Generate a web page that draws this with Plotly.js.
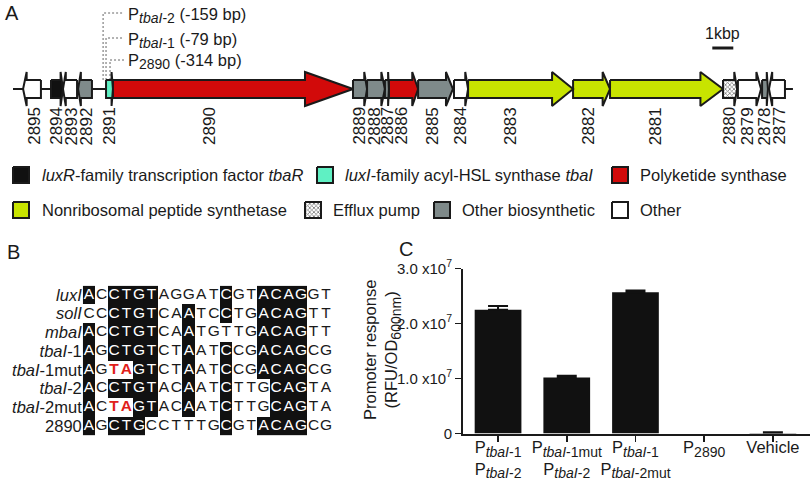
<!DOCTYPE html>
<html>
<head>
<meta charset="utf-8">
<script src="https://cdn.plot.ly/plotly-3.0.1.min.js"></script>
<style>
  html, body { margin: 0; padding: 0; background: #fff; }
  #fig { width: 810px; height: 480px; }
</style>
</head>
<body>
<div id="fig"></div>
<script>
// ---- Panel A: gene cluster, positions in kbp ----
const geneIds = ['2895', '2894', '2893', '2892', '2891', '2890', '2889', '2888', '2887', '2886',
                 '2885', '2884', '2883', '2882', '2881', '2880', '2879', '2878', '2877'];
const geneStart = [0.48, 1.81, 2.38, 3.10, 4.43, 4.76, 16.19, 16.86, 17.71, 17.90,
                   19.29, 21.00, 21.67, 26.67, 28.43, 33.81, 34.52, 35.67, 36.00];
const geneEnd = [1.33, 2.38, 3.05, 3.76, 4.76, 16.19, 16.86, 17.71, 17.90, 19.29,
                 20.95, 21.67, 26.67, 28.43, 33.81, 34.48, 35.62, 35.95, 36.76];
const geneStrand = [-1, 1, -1, -1, 1, 1, 1, 1, 1, 1, 1, 1, 1, 1, 1, 1, 1, 1, -1];
const geneClass = ['other', 'luxR', 'other', 'biosyn', 'luxI', 'pks', 'biosyn', 'biosyn', 'biosyn', 'pks',
                   'biosyn', 'other', 'nrps', 'nrps', 'nrps', 'efflux', 'other', 'biosyn', 'other'];
const clusterSpan = [0, 37.14];

const classKeys = ['luxR', 'luxI', 'pks', 'nrps', 'efflux', 'biosyn', 'other'];
const classNames = ['<i>luxR</i>-family transcription factor <i>tbaR</i>',
                    '<i>luxI</i>-family acyl-HSL synthase <i>tbaI</i>',
                    'Polyketide synthase',
                    'Nonribosomal peptide synthetase',
                    'Efflux pump',
                    'Other biosynthetic',
                    'Other'];

function sub(t) { return '<sub><span style="font-size:14px">' + t + '</span></sub>'; }

const promoterNames = ['P' + sub('<i>tbaI</i>-2') + ' (-159 bp)',
                       'P' + sub('<i>tbaI</i>-1') + ' (-79 bp)',
                       'P' + sub('2890') + ' (-314 bp)'];
const promoterPos = [4.29, 4.43, 4.62];

// ---- Panel B: alignment ----
const seqNames = ['<i>luxI</i>', '<i>solI</i>', '<i>mbaI</i>', '<i>tbaI</i>-1',
                  '<i>tbaI</i>-1mut', '<i>tbaI</i>-2', '<i>tbaI</i>-2mut', '2890'];
const seqs = ['ACCTGTAGGATCGTACAGGT',
              'CCCTGTCAATCCTGACAGTT',
              'ACCTGTCAATGTTGACAGTT',
              'AGCTGTCTAATCCGACAGCG',
              'AGTAGTCTAATCCGACAGCG',
              'ACCTGTACAATCTTGCAGTA',
              'ACTAGTACAATCTTGCAGTA',
              'AGCTGCCTTTGCGTACAGCG'];
// 1 = conserved (black box), m = mutated base, 0 = plain
const seqMask = ['10111100000100111100',
                 '00111100100100111100',
                 '10111100100000111100',
                 '10111100100100111100',
                 '10mm1100100100111100',
                 '10111100100100011100',
                 '10mm1100100100011100',
                 '10111000000100111100'];

// ---- Panel C: promoter response ----
const constructs = ['P' + sub('<i>tbaI</i>-1') + '<br>P' + sub('<i>tbaI</i>-2'),
                    'P' + sub('<i>tbaI</i>-1mut') + '<br>P' + sub('<i>tbaI</i>-2'),
                    'P' + sub('<i>tbaI</i>-1') + '<br>P' + sub('<i>tbaI</i>-2mut'),
                    'P' + sub('2890'),
                    'Vehicle'];
const response = [2.25e7, 1.02e7, 2.57e7, null, 0.01e7];
const responseErr = [0.07e7, 0.03e7, 0.03e7, 0, 0.015e7];
const yTicks = [0, 1e7, 2e7, 3e7];
const yTickText = ['0', '1.0 x10<sup>7</sup>', '2.0 x10<sup>7</sup>', '3.0 x10<sup>7</sup>'];

// ---- styling ----
const FONT = 'Liberation Sans, Arial, sans-serif';
const INK = '#1a1a1a';
const classColor = {
    luxR: '#111111', luxI: '#5ff0c3', pks: '#d20a0a', nrps: '#c8e400',
    efflux: '#ffffff', biosyn: '#7f8a8a', other: '#ffffff'
};
const TRACK_Y = 89;   // panel A y axis is in pixels from the top
const BODY = 9, HEAD = 17;

function pxToKb(px) { return (px - 13) / 21; }

function genePath(s, e, strand, xs, ys) {
    const h = (e - s) * 0.2;
    const y0 = TRACK_Y;
    let px;
    if (strand > 0) {
        px = [s, e - h, e - h, e, e - h, e - h, s, s];
    } else {
        px = [e, s + h, s + h, s, s + h, s + h, e, e];
    }
    const py = [y0 - BODY, y0 - BODY, y0 - HEAD, y0, y0 + HEAD, y0 + BODY, y0 + BODY, y0 - BODY];
    xs.push(...px, null);
    ys.push(...py, null);
}

// legend swatch positions (px) for each class
const swatchX = [13, 317, 612, 13, 305, 434, 612];
const swatchY = [175, 175, 175, 210, 210, 210, 210];

const traces = [];

// backbone
traces.push({
    x: clusterSpan, y: [TRACK_Y, TRACK_Y], xaxis: 'x', yaxis: 'y',
    type: 'scatter', mode: 'lines', line: {color: INK, width: 2},
    hoverinfo: 'skip', showlegend: false
});

// promoter leader lines
const promoterLabelY = [13, 38, 60];
promoterPos.forEach(function(p, i) {
    traces.push({
        x: [p, p, pxToKb(124)], y: [TRACK_Y - BODY, promoterLabelY[i], promoterLabelY[i]],
        xaxis: 'x', yaxis: 'y', type: 'scatter', mode: 'lines',
        line: {color: '#666', width: 1, dash: '2px,2px'},
        hoverinfo: 'skip', showlegend: false
    });
});

// genes + legend swatch, one trace per class
classKeys.forEach(function(key, k) {
    const xs = [], ys = [];
    geneIds.forEach(function(id, i) {
        if (geneClass[i] === key) genePath(geneStart[i], geneEnd[i], geneStrand[i], xs, ys);
    });
    const sx0 = pxToKb(swatchX[k]), sx1 = pxToKb(swatchX[k] + 16);
    const sy = swatchY[k];
    xs.push(sx0, sx1, sx1, sx0, sx0);
    ys.push(sy - 8, sy - 8, sy + 8, sy + 8, sy - 8);
    const t = {
        x: xs, y: ys, xaxis: 'x', yaxis: 'y', type: 'scatter', mode: 'lines',
        fill: 'toself', fillcolor: classColor[key],
        line: {color: INK, width: 2}, hoverinfo: 'skip', showlegend: false
    };
    if (key === 'efflux') {
        t.fillpattern = {shape: 'x', size: 3, solidity: 0.45, fgcolor: '#777', bgcolor: '#fff'};
    }
    traces.push(t);
});

// scale bar (1 kbp)
traces.push({
    x: [33.3, 34.3], y: [48, 48], xaxis: 'x', yaxis: 'y',
    type: 'scatter', mode: 'lines', line: {color: INK, width: 3},
    hoverinfo: 'skip', showlegend: false
});

// ---- panel B traces ----
const z = seqMask.map(function(m) {
    return m.split('').map(function(c) { return c === '1' ? 1 : null; });
});
const cols = seqs[0].split('').map(function(_, j) { return j + 1; });
const rows = seqs.map(function(_, i) { return i + 1; });
traces.push({
    type: 'heatmap', z: z, x: cols, y: rows, xaxis: 'x2', yaxis: 'y2',
    colorscale: [[0, '#111'], [1, '#111']], showscale: false,
    hoverinfo: 'skip'
});

const lx = [], ly = [], lt = [], lc = [];
const mx = [], my = [], mt = [];
seqs.forEach(function(s, i) {
    s.split('').forEach(function(ch, j) {
        const flag = seqMask[i][j];
        if (flag === 'm') {
            mx.push(j + 1); my.push(i + 1); mt.push(ch);
        } else {
            lx.push(j + 1); ly.push(i + 1); lt.push(ch);
            lc.push(flag === '1' ? '#fff' : INK);
        }
    });
});
traces.push({
    type: 'scatter', mode: 'text', x: lx, y: ly, text: lt, xaxis: 'x2', yaxis: 'y2',
    textfont: {family: FONT, size: 15.5, color: lc}, hoverinfo: 'skip', showlegend: false
});
traces.push({
    type: 'scatter', mode: 'text', x: mx, y: my, text: mt, xaxis: 'x2', yaxis: 'y2',
    textfont: {family: FONT, size: 15.5, color: '#e0201a', weight: 'bold'},
    hoverinfo: 'skip', showlegend: false
});

// ---- panel C traces ----
traces.push({
    type: 'bar', x: [0, 1, 2, 3, 4], y: response, xaxis: 'x3', yaxis: 'y3',
    width: 0.68, marker: {color: '#111', line: {width: 0}},
    error_y: {type: 'data', symmetric: false, array: responseErr,
              arrayminus: response.map(function() { return 0; }),
              color: '#111', thickness: 2, width: 10},
    hoverinfo: 'skip', showlegend: false
});

// ---- annotations ----
const annotations = [];
function paperText(text, px, py, size, opts) {
    annotations.push(Object.assign({
        text: text, xref: 'paper', yref: 'paper', x: px / 810, y: 1 - py / 480,
        xanchor: 'left', yanchor: 'middle', showarrow: false,
        font: {family: FONT, size: size, color: INK}
    }, opts || {}));
}

paperText('A', 3, 13, 20);
paperText('B', 5, 252, 20);
paperText('C', 397, 249, 20);

promoterNames.forEach(function(n, i) { paperText(n, 126, promoterLabelY[i] + 2, 16.5); });

const legendTextX = [40, 343, 638, 40, 331, 460, 638];
classNames.forEach(function(n, k) { paperText(n, legendTextX[k], swatchY[k], 16.5); });

// y title of panel C
paperText('Promoter response<br>(RFU/OD' + sub('600nm') + ')', 382, 350, 16.5,
          {xanchor: 'center', textangle: -90});

// gene labels under the body of each gene
geneIds.forEach(function(id, i) {
    const h = (geneEnd[i] - geneStart[i]) * 0.2;
    const mid = geneStrand[i] > 0 ? (geneStart[i] + geneEnd[i] - h) / 2 : (geneStart[i] + h + geneEnd[i]) / 2;
    annotations.push({
        text: id, xref: 'x', yref: 'y', x: mid, y: 105, xanchor: 'center', yanchor: 'top',
        textangle: -90, showarrow: false, font: {family: FONT, size: 17, color: INK}
    });
});

annotations.push({
    text: '1kbp', xref: 'x', yref: 'y', x: 33.8, y: 44, xanchor: 'center', yanchor: 'bottom',
    showarrow: false, font: {family: FONT, size: 16, color: INK}
});

const layout = {
    width: 810, height: 480,
    margin: {l: 0, r: 0, t: 0, b: 0},
    paper_bgcolor: '#fff', plot_bgcolor: 'rgba(0,0,0,0)',
    font: {family: FONT, size: 16, color: INK},
    showlegend: false,
    xaxis: {domain: [0, 1], range: [pxToKb(0), pxToKb(810)], visible: false, fixedrange: true},
    yaxis: {domain: [1 - 230 / 480, 1], range: [230, 0], visible: false, fixedrange: true},
    xaxis2: {domain: [82.8 / 810, 332.2 / 810], range: [0.5, 20.5], anchor: 'y2',
             showgrid: false, zeroline: false, showticklabels: false, ticks: '', fixedrange: true},
    yaxis2: {domain: [1 - 435.25 / 480, 1 - 285.65 / 480], range: [8.5, 0.5], anchor: 'x2',
             tickvals: rows, ticktext: seqNames, ticks: '', showgrid: false, zeroline: false,
             tickfont: {family: FONT, size: 16.5, color: INK}, fixedrange: true},
    xaxis3: {domain: [463 / 810, 1], range: [-0.51, 4.54], anchor: 'y3',
             tickvals: [0, 1, 2, 3, 4], ticktext: constructs, ticks: 'outside', ticklen: 6,
             tickangle: 0, tickwidth: 1.5, tickcolor: INK, showline: true, linewidth: 2,
             linecolor: INK, showgrid: false, zeroline: false, ticklabelstandoff: -8,
             tickfont: {family: FONT, size: 16.5, color: INK}, fixedrange: true},
    yaxis3: {domain: [1 - 433.5 / 480, 1 - 268.5 / 480], range: [0, 3e7], anchor: 'x3',
             tickvals: yTicks, ticktext: yTickText, ticks: 'outside', ticklen: 6,
             tickwidth: 1.5, tickcolor: INK, showline: true, linewidth: 2, linecolor: INK,
             showgrid: false, zeroline: false, tickfont: {family: FONT, size: 15, color: INK},
             fixedrange: true},
    annotations: annotations
};

Plotly.newPlot('fig', traces, layout, {staticPlot: true, displayModeBar: false});
</script>
</body>
</html>
